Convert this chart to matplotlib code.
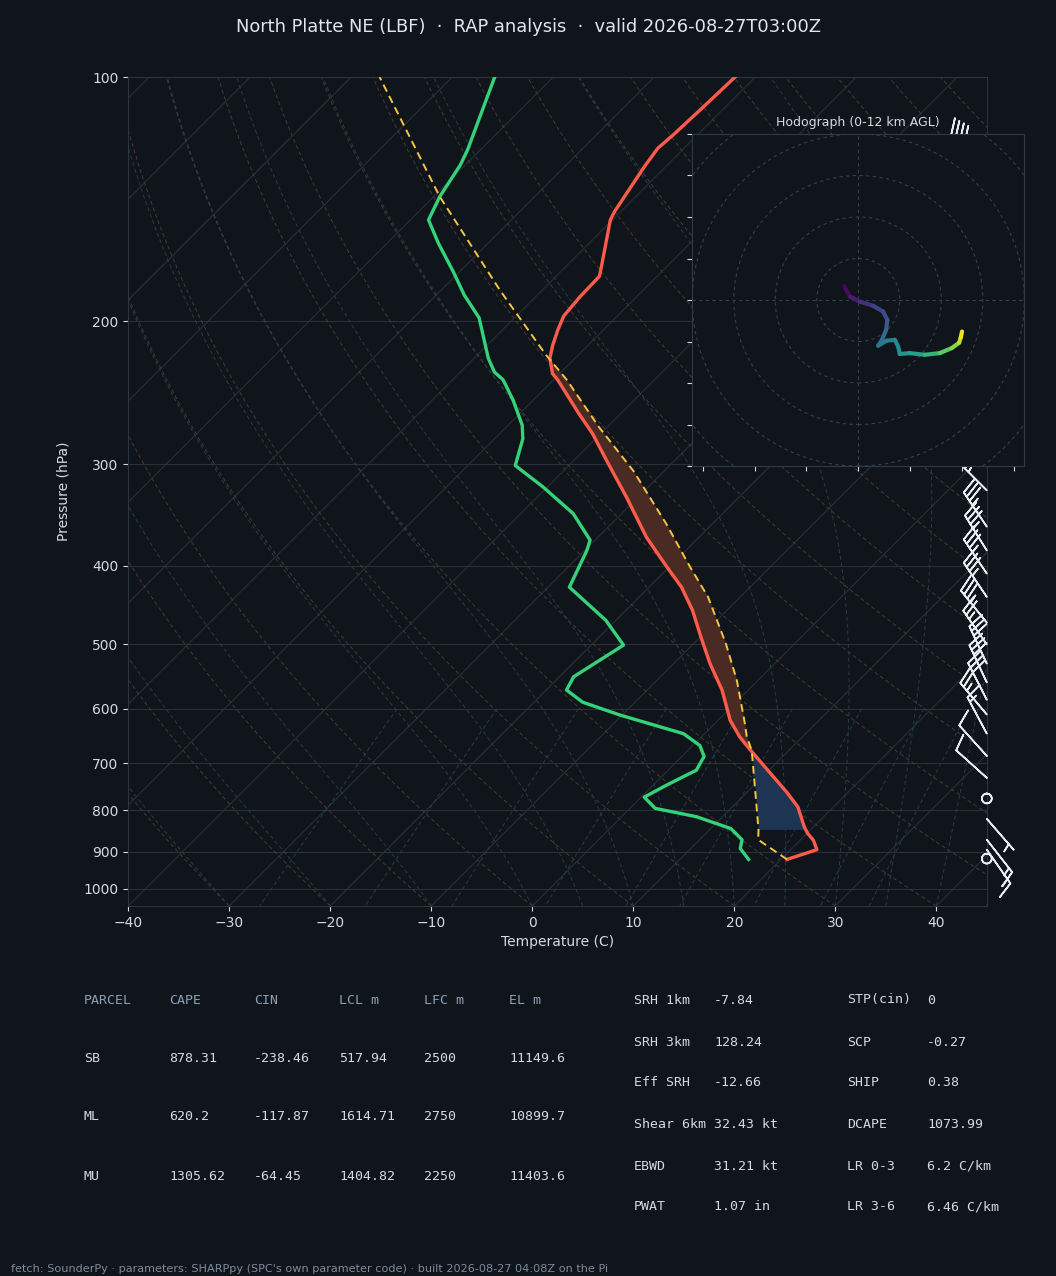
import numpy as np
import matplotlib
matplotlib.use("Agg")
import matplotlib.pyplot as plt
from matplotlib.collections import LineCollection
from matplotlib.patches import Circle

W, H = 1056, 1276
BG = "#10151c"
FG = "#d4dae0"
GRID = "#28313b"

# ---------------------------------------------------------------- sounding
p_env = [920, 895, 871, 855, 839, 793, 760, 718, 672, 650, 620, 569, 528, 490, 454, 425, 401,
         369, 329, 296.5, 275, 260, 236, 232, 222, 214, 205, 197, 186.5, 176, 171, 161, 150,
         146.6, 137, 129, 122.4, 118, 109.8, 100]
t_env = [20.6, 22.6, 21.3, 20.1, 19.1, 16.5, 13.9, 10.2, 5.9, 3.8, 1.2, -2.6, -6.4, -9.9, -13.4,
         -16.8, -20.3, -25.2, -31.2, -36.8, -40.8, -44.1, -49.6, -50.7, -52.5, -53.5, -54.5,
         -55.3, -55.6, -55.7, -56.5, -58.2, -60.2, -60.6, -61.4, -62.1, -62.6, -62.4, -62.2, -62.0]

p_dew = [920, 892, 870, 843, 815, 796, 771, 746, 728.6, 714.5, 687, 666, 644, 611, 589, 569, 548,
         501, 467, 425, 383, 372, 345, 320, 301, 279, 268.5, 250, 236, 231, 222, 198, 185.7,
         173.8, 160.3, 150, 140.4, 128.3, 122.8, 100]
td_env = [16.8, 14.9, 14.2, 12.0, 7.4, 2.5, 0.3, 1.3, 2.1, 2.8, 2.2, 0.7, -2.1, -10.2, -15.2,
          -18.0, -18.6, -16.8, -21.0, -27.9, -29.8, -30.5, -34.8, -40.4, -45.3, -47.2, -48.6,
          -52.0, -55.0, -56.6, -58.6, -63.5, -67.2, -70.6, -74.9, -78.2, -79.4, -80.5, -81.3, -85.8]

p_parcel = [920, 870, 847, 756, 675, 650, 620, 553.5, 499, 437, 401, 355, 306, 270, 236, 220,
            183, 140.4, 100]
t_parcel = [20.6, 15.8, 14.9, 10.6, 6.3, 4.5, 2.6, -2.1, -6.8, -13.2, -18.0, -24.6, -33.0,
            -40.8, -48.7, -53.2, -64.2, -79.4, -97.2]

# wind barbs (direction deg, speed kt)
p_barb = [125, 323, 358, 383, 409, 437, 470, 500, 528, 557, 585, 610, 644, 686, 730, 774, 820, 870, 895, 918]
wdir = [300, 315, 326, 328, 326, 326, 321, 325, 335, 335, 333, 320, 332, 318, 312, 0, 139, 142, 145, 0]
wspd = [40, 40, 35, 35, 35, 35, 35, 25, 30, 30, 30, 25, 15, 10, 10, 0, 5, 15, 15, 0]

# hodograph trace
hodo_u = [-3.4, -3.0, -2.0, 0.4, 3.6, 6.0, 7.0, 6.7, 5.6, 4.8, 6.8, 8.8, 9.6, 10.0, 12.4, 16.0,
          19.6, 22.5, 24.3, 24.7, 25.0]
hodo_v = [3.4, 2.6, 0.8, -0.4, -1.4, -2.8, -4.8, -7.2, -9.8, -11.0, -9.8, -9.6, -11.2, -13.0,
          -12.8, -13.2, -12.8, -11.6, -10.3, -9.0, -7.6]
hodo_z = [0.0, 0.2, 0.6, 1.2, 2.0, 2.6, 3.1, 3.7, 4.3, 4.6, 5.0, 5.5, 5.8, 6.1, 6.6, 7.3, 8.4,
          9.5, 10.2, 11.4, 12.0]

# parameter tables
parcel_cols = ["PARCEL", "CAPE", "CIN", "LCL m", "LFC m", "EL m"]
parcel_rows = [["SB", "878.31", "-238.46", "517.94", "2500", "11149.6"],
               ["ML", "620.2", "-117.87", "1614.71", "2750", "10899.7"],
               ["MU", "1305.62", "-64.45", "1404.82", "2250", "11403.6"]]
kin_names = ["SRH 1km", "SRH 3km", "Eff SRH", "Shear 6km", "EBWD", "PWAT"]
kin_vals = ["-7.84", "128.24", "-12.66", "32.43 kt", "31.21 kt", "1.07 in"]
comp_names = ["STP(cin)", "SCP", "SHIP", "DCAPE", "LR 0-3", "LR 3-6"]
comp_vals = ["0", "-0.27", "0.38", "1073.99", "6.2 C/km", "6.46 C/km"]

TITLE = "North Platte NE (LBF)  \u00b7  RAP analysis  \u00b7  valid 2026-08-27T03:00Z"
FOOTER = ("fetch: SounderPy \u00b7 parameters: SHARPpy (SPC's own parameter code) \u00b7 "
          "built 2026-08-27 04:08Z on the Pi")

# ---------------------------------------------------------------- skew-T geometry
XMIN, XMAX, PBOT, PTOP = -40, 45, 1050, 100
AX = [128.3 / W, 1 - 906 / H, 858.5 / W, 829 / H]
SKEW = (AX[3] * H) / (AX[2] * W) * (XMAX - XMIN)   # 45 deg isotherms


def skx(t, p):
    p = np.asarray(p, float)
    return np.asarray(t, float) + SKEW * np.log(PBOT / p) / np.log(PBOT / PTOP)


plt.rcParams["font.family"] = "DejaVu Sans"
plt.rcParams["font.size"] = 10
fig = plt.figure(figsize=(W / 100, H / 100), dpi=100, facecolor=BG)
ax = fig.add_axes(AX, facecolor=BG)
ax.set_yscale("log")
ax.set_ylim(PBOT, PTOP)
ax.set_xlim(XMIN, XMAX)

pp = np.geomspace(PBOT, PTOP, 200)

# isobars / isotherms
for pl in range(100, 1001, 100):
    ax.axhline(pl, color=GRID, lw=0.8, zorder=1)
for tl in range(-120, 50, 10):
    ax.plot(skx(tl, pp), pp, color="#283038", lw=0.8, zorder=1)

# dry adiabats
for t0 in np.arange(-40, 250, 10):
    tt = (t0 + 273.15) * (pp / PBOT) ** 0.2857 - 273.15
    ax.plot(skx(tt, pp), pp, color="#4a3a2c", lw=0.7, ls=(0, (4, 3)), zorder=1)

# moist adiabats
Rd, Cp, Lv, eps = 287.04, 1005.7, 2.501e6, 0.622


def dtdp(T, p):
    es = 6.112 * np.exp(17.67 * (T - 273.15) / (T - 29.65))
    rs = eps * es / (p - es)
    return (Rd * T + Lv * rs) / (p * (Cp + Lv * Lv * rs * eps / (Rd * T * T)))


t0m = np.concatenate((np.arange(-40, 0, 10), np.arange(0, 46, 5))) + 273.15
TM = np.empty((len(t0m), len(pp)))
TM[:, 0] = t0m
for i in range(1, len(pp)):
    dp = pp[i] - pp[i - 1]
    k1 = dtdp(TM[:, i - 1], pp[i - 1])
    k2 = dtdp(TM[:, i - 1] + k1 * dp / 2, pp[i - 1] + dp / 2)
    TM[:, i] = TM[:, i - 1] + k2 * dp
for row in TM:
    ax.plot(skx(row - 273.15, pp), pp, color="#253e47", lw=0.7, ls=(0, (4, 3)), zorder=1)

# mixing ratio lines
pm = np.linspace(600, PBOT, 50)
for w in [0.0004, 0.001, 0.002, 0.004, 0.007, 0.01, 0.016, 0.024, 0.032]:
    e = w * pm / (eps + w)
    le = np.log(e / 6.112)
    td = 243.5 * le / (17.67 - le)
    ax.plot(skx(td, pm), pm, color="#253e47", lw=0.7, ls=(0, (4, 3)), zorder=1)

# CAPE / CIN shading
pg = np.geomspace(920, 100, 600)
te = np.interp(-np.log(pg), -np.log(p_env), t_env)
tp = np.interp(-np.log(pg), -np.log(p_parcel), t_parcel)
cape = (tp >= te) & (pg <= 700) & (pg >= 200)
cin = (tp <= te) & (pg <= 845) & (pg >= 640)
ax.fill_betweenx(pg, skx(te, pg), skx(tp, pg), where=cape, interpolate=True,
                 color="#4a2b23", lw=0, zorder=2)
ax.fill_betweenx(pg, skx(te, pg), skx(tp, pg), where=cin, interpolate=True,
                 color="#1d3453", lw=0, zorder=2)

# profiles
ax.plot(skx(t_env, p_env), p_env, color="#ff5b4b", lw=2.4, zorder=4)
ax.plot(skx(td_env, p_dew), p_dew, color="#35d27a", lw=2.4, zorder=4)
ax.plot(skx(t_parcel, p_parcel), p_parcel, color="#f4c542", lw=1.4, ls=(0, (4, 2.5)), zorder=4)

# barbs on the right edge
wd = np.radians(wdir)
ub = -np.asarray(wspd) * np.sin(wd)
vb = -np.asarray(wspd) * np.cos(wd)
ax.barbs(np.ones(len(p_barb)), p_barb, ub, vb, transform=ax.get_yaxis_transform(),
         clip_on=False, length=7.7, sizes=dict(emptybarb=0.12), color="#e8ecf0", lw=1.2, zorder=5)

# axes styling
ax.set_yticks(range(100, 1001, 100))
ax.set_yticklabels([str(v) for v in range(100, 1001, 100)])
ax.yaxis.set_minor_locator(matplotlib.ticker.NullLocator())
ax.set_xticks(range(-40, 41, 10))
ax.tick_params(colors=FG, labelsize=10)
for s in ax.spines.values():
    s.set_color("#2b3540")
ax.set_xlabel("Temperature (C)", color=FG)
ax.set_ylabel("Pressure (hPa)", color=FG, labelpad=9)

fig.text(0.5, 1 - 27 / H, TITLE, ha="center", va="center", fontsize=12.9, color="#e2e6ea")

# ---------------------------------------------------------------- hodograph inset
hax = fig.add_axes([692.3 / W, 1 - 466 / H, 332 / W, 332 / H], facecolor=BG, zorder=6)
hax.set_xlim(-40, 40)
hax.set_ylim(-40, 40)
for r in (10, 20, 30, 40, 50):
    hax.add_patch(Circle((0, 0), r, fill=False, ls=(0, (3, 3)), lw=0.8, color="#34404d"))
hax.axhline(0, ls=(0, (3, 3)), lw=0.8, color="#34404d")
hax.axvline(0, ls=(0, (3, 3)), lw=0.8, color="#34404d")
pts = np.column_stack([hodo_u, hodo_v]).reshape(-1, 1, 2)
segs = np.concatenate([pts[:-1], pts[1:]], axis=1)
lc = LineCollection(segs, cmap="viridis", lw=3.0, capstyle="round")
lc.set_array(np.asarray(hodo_z[:-1]) + np.diff(hodo_z) / 2)
lc.set_clim(0, 12)
hax.add_collection(lc)
hax.set_xticks(np.arange(-37.5, 40, 12.5))
hax.set_yticks(range(-40, 41, 10))
hax.set_xticklabels([])
hax.set_yticklabels([])
hax.tick_params(colors=FG, length=3.5)
for s in hax.spines.values():
    s.set_color("#2f3a47")
hax.set_title("Hodograph (0-12 km AGL)", fontsize=9, color=FG, pad=6)

# ---------------------------------------------------------------- tables
MONO = dict(family="DejaVu Sans Mono", fontsize=9.5, va="center")
col_x = [84, 169, 254, 339, 424, 509]
for cx, name in zip(col_x, parcel_cols):
    fig.text(cx / W, 1 - 1000 / H, name, color="#8c9fb4", **MONO)
for ry, row in zip([1059, 1117, 1176], parcel_rows):
    for cx, val in zip(col_x, row):
        fig.text(cx / W, 1 - ry / H, val, color=FG, **MONO)

right_y = [1000, 1042, 1083, 1124, 1166, 1207]
for ry, a, b, c, d in zip(right_y, kin_names, kin_vals, comp_names, comp_vals):
    fig.text(634 / W, 1 - ry / H, a, color=FG, **MONO)
    fig.text(714 / W, 1 - ry / H, b, color=FG, **MONO)
    fig.text(847 / W, 1 - ry / H, c, color=FG, **MONO)
    fig.text(927 / W, 1 - ry / H, d, color=FG, **MONO)

fig.text(11 / W, 1 - 1269 / H, FOOTER, fontsize=8.1, color="#7d8b9c", va="center")

fig.savefig("out.png", dpi=100, facecolor=BG)
